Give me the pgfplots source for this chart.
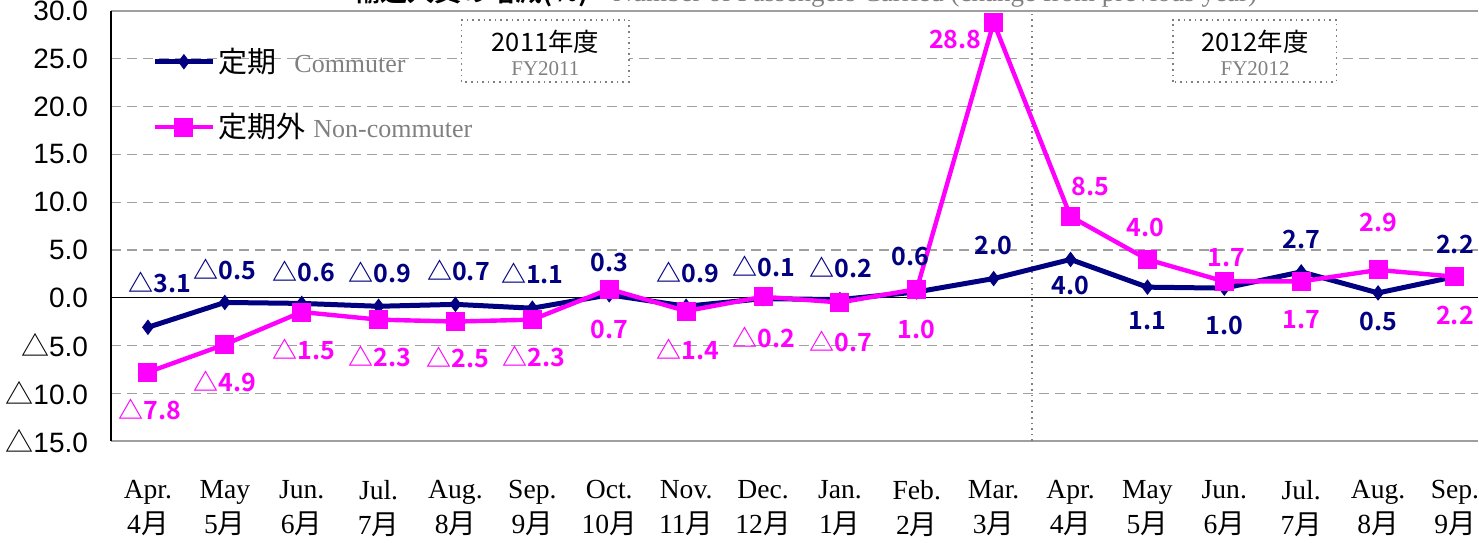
\documentclass[border=0pt]{standalone}
\usepackage{fontspec}
\usepackage{pgfplots}
\usepackage{pgfplotstable}
\pgfplotsset{compat=1.18}
\setmainfont{Liberation Serif}
\newfontfamily\jp{Noto Sans CJK JP}[BoldFont={Noto Sans CJK JP Bold}]
\newfontfamily\sans{Liberation Sans}
\definecolor{navy}{HTML}{000080}
\definecolor{pink}{HTML}{FF00FF}
\newcommand{\tri}{{\jp △}}

\pgfplotstableread{
x y
0 -3.1
1 -0.5
2 -0.6
3 -0.9
4 -0.7
5 -1.1
6 0.3
7 -0.9
8 -0.1
9 -0.2
10 0.6
11 2.0
12 4.0
13 1.1
14 1.0
15 2.7
16 0.5
17 2.2
}\commuter

\pgfplotstableread{
x y
0 -7.8
1 -4.9
2 -1.5
3 -2.3
4 -2.5
5 -2.3
6 0.9
7 -1.4
8 0.1
9 -0.5
10 0.9
11 28.8
12 8.5
13 4.0
14 1.7
15 1.7
16 2.9
17 2.2
}\noncommuter

\pgfplotstableread{
x y lab
0.16 1.57 △3.1
1.0 2.93 △0.5
2.03 2.72 △0.6
3.02 2.62 △0.9
4.04 2.82 △0.7
5.0 2.51 △1.1
6.0 3.66 0.3
7.02 2.62 △0.9
8.01 3.24 △0.1
9.01 3.14 △0.2
9.92 4.29 0.6
11.0 5.44 2.0
12.0 1.26 4.0
13.0 -2.41 1.1
14.0 -2.93 1.0
15.0 6.07 2.7
16.0 -2.51 0.5
17.0 5.54 2.2
}\commuterlab

\pgfplotstableread{
x y lab
0.03 -11.7 △7.8
1.0 -8.8 △4.9
2.03 -5.44 △1.5
3.02 -6.17 △2.3
4.03 -6.28 △2.5
5.02 -6.17 △2.3
6.0 -3.35 0.7
7.02 -5.44 △1.4
8.01 -4.18 △0.2
9.01 -4.6 △0.7
10.0 -3.35 1.0
10.5 27.0 28.8
12.26 11.6 8.5
12.97 7.3 4.0
14.03 4.18 1.7
15.0 -2.3 1.7
16.0 7.9 2.9
17.0 -1.9 2.2
}\noncommuterlab

\begin{document}
\begin{tikzpicture}
\begin{axis}[
  width=683.5pt, height=215pt, scale only axis,
  xmin=-0.48, xmax=17.3, ymin=-15, ymax=30,
  axis x line*=box, axis y line*=left,
  x axis line style={gray!75, line width=1.3pt},
  y axis line style={black, line width=0.8pt},
  major tick length=0pt,
  xtick={0,...,17},
  xticklabels={{Apr.\\4{\jp 月}},{May\\5{\jp 月}},{Jun.\\6{\jp 月}},{Jul.\\7{\jp 月}},{Aug.\\8{\jp 月}},{Sep.\\9{\jp 月}},{Oct.\\10{\jp 月}},{Nov.\\11{\jp 月}},{Dec.\\12{\jp 月}},{Jan.\\1{\jp 月}},{Feb.\\2{\jp 月}},{Mar.\\3{\jp 月}},{Apr.\\4{\jp 月}},{May\\5{\jp 月}},{Jun.\\6{\jp 月}},{Jul.\\7{\jp 月}},{Aug.\\8{\jp 月}},{Sep.\\9{\jp 月}}},
  xticklabel style={align=center, font=\fontsize{13.8}{17.8}\selectfont, yshift=-16pt},
  ytick={-15,-10,-5,0,5,10,15,20,25,30},
  yticklabels={{\tri15.0},{\tri10.0},{\tri5.0},0.0,5.0,10.0,15.0,20.0,25.0,30.0},
  yticklabel style={font=\sans\fontsize{14}{16}\selectfont, xshift=-8pt},
  ymajorgrids,
  grid style={gray!75, dash pattern=on 5pt off 3pt, line width=0.6pt},
  legend style={draw=none, fill=none, inner sep=0pt, at={(rel axis cs:0.03,0.806)}, anchor=west, row sep=16pt, nodes={inner sep=1.5pt}},
  legend cell align=left,
  legend image code/.code={\draw[#1, mark repeat=2, mark phase=2] plot coordinates {(0pt,0pt) (14.5pt,0pt) (29pt,0pt)};},
  clip=false,
]
\coordinate (bbsw) at (rel axis cs:-0.0812,-0.2349);
\coordinate (bbne) at (rel axis cs:1.0007,1.0256);

\draw[black, line width=0.6pt] (axis cs:-0.48,0) -- (axis cs:17.3,0);
\draw[gray, dotted, line width=0.8pt] (axis cs:11.5,-15) -- (axis cs:11.5,30);

\draw[gray, dotted, fill=white, line width=0.8pt] (axis cs:4.08,22.6) rectangle (axis cs:6.26,29.08);
\draw[gray, dotted, fill=white, line width=0.8pt] (axis cs:13.33,22.6) rectangle (axis cs:15.46,29.08);
\node[font=\jp\fontsize{12.7}{14}\selectfont] at (axis cs:5.17,26.8) {2011年度};
\node[font=\fontsize{10.5}{12}\selectfont, text=gray] at (axis cs:5.17,24.0) {FY2011};
\node[font=\jp\fontsize{12.7}{14}\selectfont] at (axis cs:14.4,26.8) {2012年度};
\node[font=\fontsize{10.5}{12}\selectfont, text=gray] at (axis cs:14.4,24.0) {FY2012};

\node[anchor=base, font=\fontsize{13.5}{15}\selectfont] at (rel axis cs:0.508,1.021) {{\jp\bfseries 輸送人員の増減(\%)}\hspace{12pt}{\color{gray}Number of Passengers Carried (change from previous year)}};

\addplot[navy, line width=2.5pt, mark=diamond*, mark size=3.5pt, mark options={solid, line width=0.5pt}] table[x=x, y=y] {\commuter};
\addlegendentry{{\jp\fontsize{14.5}{16}\selectfont 定期}\hspace{9pt}{\color{gray}\fontsize{13}{15}\selectfont Commuter}}
\addplot[pink, line width=2.2pt, mark=square*, mark size=4.5pt, mark options={solid, line width=0.5pt}] table[x=x, y=y] {\noncommuter};
\addlegendentry{{\jp\fontsize{14.5}{16}\selectfont 定期外}\hspace{4pt}{\color{gray}\fontsize{13}{15}\selectfont Non-commuter}}

\addplot[draw=none, mark=none, forget plot, nodes near coords, point meta=explicit symbolic,
  nodes near coords style={anchor=center, inner sep=0pt, text=navy, font=\jp\bfseries\fontsize{12.5}{14}\selectfont}]
  table[x=x, y=y, meta=lab] {\commuterlab};
\addplot[draw=none, mark=none, forget plot, nodes near coords, point meta=explicit symbolic,
  nodes near coords style={anchor=center, inner sep=0pt, text=pink, font=\jp\bfseries\fontsize{12.5}{14}\selectfont}]
  table[x=x, y=y, meta=lab] {\noncommuterlab};
\end{axis}
\pgfresetboundingbox
\path[use as bounding box] (bbsw) rectangle (bbne);
\end{tikzpicture}
\end{document}
